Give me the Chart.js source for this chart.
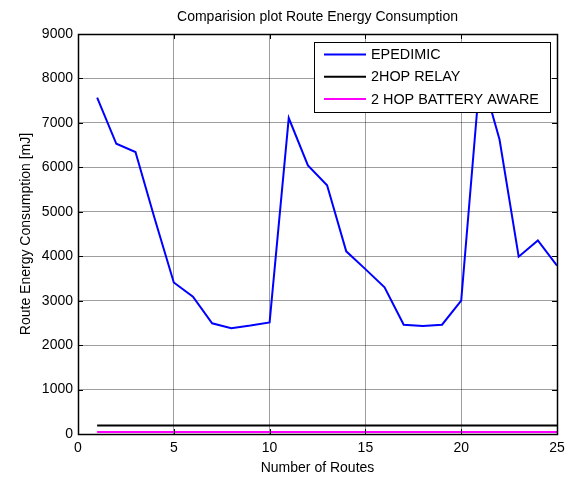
<!DOCTYPE html>
<html>
<head>
<meta charset="utf-8">
<script src="https://cdn.jsdelivr.net/npm/chart.js@4.4.1/dist/chart.umd.min.js"></script>
<style>
  html, body { margin: 0; padding: 0; background: #fff; }
  #wrap { width: 576px; height: 477px; }
</style>
</head>
<body>
<div id="wrap"><canvas id="c" width="576" height="477"></canvas></div>
<script>
const chartTitle = "Comparision plot Route Energy Consumption";
const xTitle = "Number of Routes";
const yTitle = "Route Energy Consumption [mJ]";
const routes = [1,2,3,4,5,6,7,8,9,10,11,12,13,14,15,16,17,18,19,20,21,22,23,24,25];
const epidemic = [7570,6530,6345,4850,3410,3090,2490,2380,2440,2510,7110,6045,5595,4110,3710,3300,2460,2430,2460,3000,8150,6625,3990,4355,3790];
const relay = [190,190,190,190,190,190,190,190,190,190,190,190,190,190,190,190,190,190,190,190,190,190,190,190,190];
const battery = [45,45,45,45,45,45,45,45,45,45,45,45,45,45,45,45,45,45,45,45,45,45,45,45,45];
const seriesLabels = ["EPEDIMIC", "2HOP RELAY", "2 HOP BATTERY AWARE"];
const seriesColors = ["#0000ff", "#000000", "#ff00ff"];
const xTicks = [0,5,10,15,20,25];
const yTicks = [0,1000,2000,3000,4000,5000,6000,7000,8000,9000];

const FONT = "'Liberation Sans', Arial, sans-serif";
const toPts = arr => routes.map((r, i) => ({x: r, y: arr[i]}));

const framePlugin = {
  id: 'frame',
  afterDatasetsDraw(chart) {
    const {ctx, chartArea: a, scales} = chart;
    ctx.save();
    ctx.strokeStyle = '#000';
    ctx.lineWidth = 1;
    const tl = 5;
    ctx.beginPath();
    xTicks.forEach(v => {
      const px = Math.round(scales.x.getPixelForValue(v)) + 0.5;
      ctx.moveTo(px, a.bottom); ctx.lineTo(px, a.bottom - tl);
      ctx.moveTo(px, a.top); ctx.lineTo(px, a.top + tl);
    });
    yTicks.forEach(v => {
      const py = Math.round(scales.y.getPixelForValue(v)) + 0.5;
      ctx.moveTo(a.left, py); ctx.lineTo(a.left + tl, py);
      ctx.moveTo(a.right, py); ctx.lineTo(a.right - tl, py);
    });
    ctx.stroke();
    ctx.lineWidth = 1.5;
    ctx.strokeRect(Math.round(a.left) + 0.5, Math.round(a.top) + 0.5, Math.round(a.right - a.left), Math.round(a.bottom - a.top));
    ctx.restore();
  }
};

const legendTitlePlugin = {
  id: 'legendTitle',
  afterDraw(chart) {
    const {ctx, chartArea: a} = chart;
    ctx.save();
    ctx.fillStyle = '#000';
    ctx.font = '14px ' + FONT;
    ctx.textAlign = 'center';
    ctx.textBaseline = 'middle';
    ctx.fillText(chartTitle, (a.left + a.right) / 2, 17);
    const bx = a.right - 243, by = a.top + 8, bw = 236, bh = 70;
    ctx.fillStyle = '#fff';
    ctx.fillRect(bx, by, bw, bh);
    ctx.strokeStyle = '#000';
    ctx.lineWidth = 1;
    ctx.strokeRect(bx + 0.5, by + 0.5, bw, bh);
    ctx.font = '14.4px ' + FONT;
    ctx.textAlign = 'left';
    chart.data.datasets.forEach((ds, i) => {
      const y = by + 12.5 + i * 22.3;
      ctx.strokeStyle = ds.borderColor;
      ctx.lineWidth = 2;
      ctx.beginPath();
      ctx.moveTo(bx + 10, y); ctx.lineTo(bx + 52, y);
      ctx.stroke();
      ctx.fillStyle = '#000';
      ctx.fillText(ds.label, bx + 57, y + 0.5);
    });
    ctx.restore();
  }
};

const datasets = [epidemic, relay, battery].map((arr, i) => ({
  label: seriesLabels[i],
  data: toPts(arr),
  borderColor: seriesColors[i],
  backgroundColor: seriesColors[i],
  borderWidth: 2,
  pointRadius: 0,
  tension: 0,
  fill: false
}));

new Chart(document.getElementById('c'), {
  type: 'line',
  data: { datasets },
  options: {
    responsive: false,
    animation: false,
    devicePixelRatio: 1,
    layout: { padding: { left: 0, right: 19, top: 34, bottom: 0 } },
    plugins: { legend: { display: false }, title: { display: false }, tooltip: { enabled: false } },
    scales: {
      x: {
        type: 'linear', min: 0, max: 25,
        afterBuildTicks: s => { s.ticks = xTicks.map(v => ({value: v})); },
        afterFit: s => { s.height = 43; },
        grid: { color: 'rgba(0,0,0,0.38)', lineWidth: 1, drawTicks: false },
        border: { display: false },
        ticks: { color: '#000', font: { family: FONT, size: 14 }, padding: 6, maxRotation: 0, callback: v => String(v) },
        title: { display: true, text: xTitle, color: '#000', font: { family: FONT, size: 14 }, padding: { top: 0, bottom: 0 } }
      },
      y: {
        min: 0, max: 9000,
        afterBuildTicks: s => { s.ticks = yTicks.map(v => ({value: v})); },
        afterFit: s => { s.width = 78; },
        grid: { color: 'rgba(0,0,0,0.38)', lineWidth: 1, drawTicks: false },
        border: { display: false },
        ticks: { color: '#000', font: { family: FONT, size: 14 }, padding: 5, callback: v => String(v) },
        title: { display: true, text: yTitle, color: '#000', font: { family: FONT, size: 14 }, padding: { top: 18, bottom: 0 } }
      }
    }
  },
  plugins: [framePlugin, legendTitlePlugin]
});
</script>
</body>
</html>
